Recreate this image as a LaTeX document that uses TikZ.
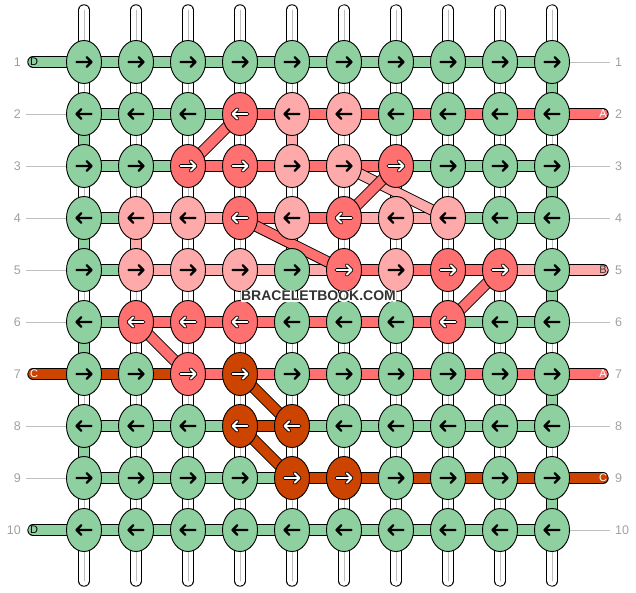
\documentclass[tikz,border=0pt]{standalone}
\usepackage{fontspec}
\setmainfont{Liberation Sans}
\usetikzlibrary{shapes.geometric}
\pgfdeclarelayer{bg}
\pgfsetlayers{bg,main}
\definecolor{colG}{RGB}{142,208,160}
\definecolor{colR}{RGB}{255,112,112}
\definecolor{colP}{RGB}{255,170,170}
\definecolor{colC}{RGB}{204,68,0}
\definecolor{coreGray}{RGB}{190,190,190}
\definecolor{lineGray}{RGB}{190,190,190}
\definecolor{numGray}{RGB}{160,160,160}
\definecolor{wmGray}{RGB}{51,51,51}
\newcommand\halotext[1]{\leavevmode\rlap{\special{pdf:literal direct 1 Tr 2.6 w 1 J 1 j 1 1 1 RG}#1\special{pdf:literal direct 0 Tr}}#1}
\begin{document}
\begin{tikzpicture}[x=1pt,y=-1pt,
  knot/.style={ellipse, draw=black, line width=0.9pt, minimum width=35pt, minimum height=43pt, inner sep=0pt},
  seg/.style={draw=black, line width=0.9pt, double=#1, double distance=9.6pt},
  stub/.style={seg=#1, line cap=round},
  core/.style={draw=coreGray, line width=0.9pt},
  gline/.style={draw=lineGray, line width=0.9pt},
  arrG/.style={draw=black, line width=2.4pt, line cap=round, line join=round},
  arrP/.style={arrG},
  arrR/.style={draw=black, line width=0.9pt, double=white, double distance=1.8pt, line cap=round, line join=round},
  arrC/.style={arrR},
  stublbl/.style={font=\fontsize{11pt}{11pt}\selectfont, inner sep=0pt},
  numlbl/.style={font=\fontsize{12.5pt}{12.5pt}\selectfont, text=numGray, inner sep=0pt}
]
\useasboundingbox (0,0) rectangle (636,592);

% knots
\foreach \row [count=\r] in {
 {G,G,G,G,G,G,G,G,G,G},
 {G,G,G,R,P,P,G,G,G,G},
 {G,G,R,R,P,P,R,G,G,G},
 {G,P,P,R,P,R,P,P,G,G},
 {G,P,P,P,G,R,P,R,R,G},
 {G,R,R,R,G,G,G,R,G,G},
 {G,G,R,C,G,G,G,G,G,G},
 {G,G,G,C,C,G,G,G,G,G},
 {G,G,G,G,C,C,G,G,G,G},
 {G,G,G,G,G,G,G,G,G,G}}{
  \foreach \c [count=\j] in \row {
    \node[knot, fill=col\c] (k-\r-\j) at ({84+52*(\j-1)},{62+52*(\r-1)}) {};
    \pgfmathsetmacro\d{ifthenelse(mod(\r,2)==1,1,-1)}
    \draw[arr\c] (k-\r-\j.center) ++(-7.5*\d,0) -- ++(15*\d,0) ++(-4.8*\d,-4.8) -- ++(4.8*\d,4.8) -- ++(-4.8*\d,4.8);
  }
}

\begin{pgfonlayer}{bg}
% vertical white strings between rows
\foreach \r in {1,...,9}{
  \pgfmathtruncatemacro\rn{\r+1}
  \foreach \j in {1,...,10}{
    \draw[seg=white] (k-\r-\j.center) -- (k-\rn-\j.center);
    \draw[core] (k-\r-\j.center) -- (k-\rn-\j.center);
  }
}
% coloured vertical segments
\foreach \r/\j/\c in {1/10/G, 2/1/G, 2/5/P, 3/10/G, 4/1/G, 4/2/P, 5/10/G, 6/1/G, 7/10/G, 8/1/G, 9/10/G}{
  \pgfmathtruncatemacro\rn{\r+1}
  \draw[seg=col\c] (k-\r-\j.center) -- (k-\rn-\j.center);
}
% top and bottom stubs
\foreach \j in {1,...,10}{
  \coordinate (t-\j) at ({84+52*(\j-1)},10);
  \coordinate (b-\j) at ({84+52*(\j-1)},581);
  \draw[stub=white] (t-\j) -- (k-1-\j.center);
  \draw[core, line cap=round] (t-\j) -- (k-1-\j.center);
  \draw[stub=white] (k-10-\j.center) -- (b-\j);
  \draw[core, line cap=round] (k-10-\j.center) -- (b-\j);
}
% horizontal segments
\foreach \row [count=\r] in {
 {G,G,G,G,G,G,G,G,G},
 {G,G,G,R,R,R,R,R,R},
 {G,G,R,R,R,R,G,G,G},
 {G,P,P,R,R,P,P,G,G},
 {G,P,P,P,P,R,R,R,P},
 {G,R,R,R,R,R,R,G,G},
 {C,C,R,R,R,R,R,R,R},
 {G,G,G,C,G,G,G,G,G},
 {G,G,G,G,C,C,C,C,C},
 {G,G,G,G,G,G,G,G,G}}{
  \foreach \c [count=\j] in \row {
    \pgfmathtruncatemacro\jn{\j+1}
    \draw[seg=col\c] (k-\r-\j.center) -- (k-\r-\jn.center);
  }
}
% diagonals
\foreach \a/\b/\c in {3-6/4-8/P, 2-4/3-3/R, 3-7/4-6/R, 4-4/5-6/R, 5-9/6-8/R, 6-2/7-3/R, 7-4/8-5/C, 8-4/9-5/C}{
  \draw[seg=col\c] (k-\a.center) -- (k-\b.center);
}
% left stubs
\foreach \r/\c/\t/\tc in {1/G/D/black, 7/C/C/white, 10/G/D/black}{
  \coordinate (l-\r) at (33,{62+52*(\r-1)});
  \draw[stub=col\c] (l-\r) -- (k-\r-1.center);
  \node[stublbl, text=\tc] (ll-\r) at (34,{62+52*(\r-1)}) {\t};
}
% right stubs
\foreach \r/\c/\t/\tc in {2/R/A/white, 5/P/B/wmGray, 7/R/A/white, 9/C/C/white}{
  \coordinate (r-\r) at (603,{62+52*(\r-1)});
  \draw[stub=col\c] (k-\r-10.center) -- (r-\r);
  \node[stublbl, text=\tc] (rl-\r) at (603,{62+52*(\r-1)}) {\t};
}
% grey label lines
\foreach \r in {2,3,4,5,6,8,9}{
  \coordinate (gl-\r) at (26,{62+52*(\r-1)});
  \draw[gline] (gl-\r) -- (k-\r-1.center);
}
\foreach \r in {1,3,4,6,8,10}{
  \coordinate (gr-\r) at (610,{62+52*(\r-1)});
  \draw[gline] (k-\r-10.center) -- (gr-\r);
}
\end{pgfonlayer}

% row numbers
\foreach \r in {1,...,10}{
  \node[numlbl, anchor=east] (nl-\r) at (21,{62+52*(\r-1)}) {\r};
  \node[numlbl, anchor=west] (nr-\r) at (615,{62+52*(\r-1)}) {\r};
}

% watermark
\node[font=\bfseries\fontsize{14pt}{14pt}\selectfont, text=wmGray, inner sep=0pt] (wm) at (318.5,296) {\halotext{BRACELETBOOK.COM}};
\end{tikzpicture}
\end{document}
